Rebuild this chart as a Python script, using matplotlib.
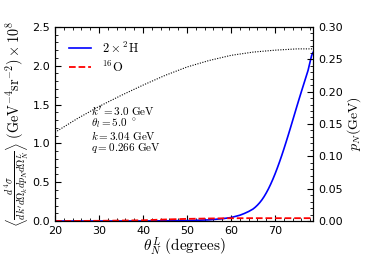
import numpy as np
import matplotlib
matplotlib.use("Agg")
import matplotlib.pyplot as plt
from matplotlib.ticker import AutoMinorLocator

plt.rcParams['mathtext.fontset'] = 'cm'
plt.rcParams['font.size'] = 8

# cross section (x 1e8) vs theta_N^L
theta_h = [20, 30, 40, 45, 50, 55, 58, 60, 62, 63, 64, 65, 65.5, 66, 66.5, 67,
           67.5, 68, 68.5, 69, 69.5, 70, 70.5, 71, 71.5, 72, 72.5, 73, 73.5, 74,
           74.5, 75, 75.5, 76, 76.5, 77, 77.5, 78, 78.3, 78.6]
sig_h = [0.0, 0.0, 0.001, 0.003, 0.006, 0.015, 0.03, 0.045, 0.075, 0.097, 0.123,
         0.155, 0.178, 0.205, 0.236, 0.272, 0.314, 0.362, 0.415, 0.474, 0.538,
         0.607, 0.681, 0.759, 0.841, 0.927, 1.016, 1.107, 1.20, 1.295, 1.39,
         1.485, 1.578, 1.67, 1.76, 1.85, 1.94, 2.06, 2.13, 2.17]

theta_o = [20, 30, 40, 45, 50, 55, 60, 65, 70, 78.6]
sig_o = [0.0, 0.003, 0.01, 0.02, 0.028, 0.033, 0.036, 0.037, 0.037, 0.037]

# nucleon momentum p_N (GeV), right axis
theta_p = [20, 25, 30, 35, 40, 45, 50, 55, 60, 65, 70, 75, 78.6]
p_N = [0.137, 0.158, 0.177, 0.194, 0.210, 0.225, 0.238, 0.248, 0.256, 0.261,
       0.264, 0.266, 0.266]

kin_lines = [r"$k' = 3.0\ \mathrm{GeV}$",
             r'$\theta_l = 5.0\ ^\circ$',
             r'$k = 3.04\ \mathrm{GeV}$',
             r'$q = 0.266\ \mathrm{GeV}$']

fig = plt.figure(figsize=(3.69, 2.77), dpi=100)
ax = fig.add_axes([0.149, 0.202, 0.699, 0.701])
ax2 = ax.twinx()

ax.plot(theta_h, sig_h, color='blue', lw=1.2, label=r'$2\times{}^2\mathrm{H}$')
ax.plot(theta_o, sig_o, color='red', lw=1.3, ls='--', label=r'${}^{16}\mathrm{O}$')
ax2.plot(theta_p, p_N, color='black', lw=0.8, ls=(0, (1, 1.3)))

ax.set_xlim(20, 78.6)
ax.set_ylim(0, 2.5)
ax2.set_ylim(0, 0.30)
ax.set_xticks([20, 30, 40, 50, 60, 70])
ax.set_yticks(np.arange(0, 2.51, 0.5))
ax2.set_yticks(np.arange(0, 0.301, 0.05))

for a in (ax, ax2):
    a.xaxis.set_minor_locator(AutoMinorLocator(5))
    a.yaxis.set_minor_locator(AutoMinorLocator(5))
    a.tick_params(which='both', direction='in', top=True, labelsize=8)
    a.tick_params(which='major', length=4)
    a.tick_params(which='minor', length=2)
ax.tick_params(which='both', right=False)
ax2.tick_params(which='both', left=False)
ax.yaxis.set_major_formatter(plt.FormatStrFormatter('%.1f'))
ax2.yaxis.set_major_formatter(plt.FormatStrFormatter('%.2f'))

ax.set_xlabel(r'$\theta_N^L\ (\mathrm{degrees})$', fontsize=11, labelpad=0)
ax.set_ylabel(r'$\left\langle\frac{d^4\sigma}{dk^\prime d\Omega_k dp_N d\Omega_N^L}\right\rangle\ (\mathrm{GeV}^{-4}\mathrm{sr}^{-2})\times10^8$',
              fontsize=10.3, labelpad=1)
ax2.set_ylabel(r'$p_N(\mathrm{GeV})$', fontsize=10, labelpad=2)

for i, s in enumerate(kin_lines):
    ax.text(0.14, 0.57 - i * 0.064, s, transform=ax.transAxes, fontsize=8,
            va='center', ha='left')

ax.legend(loc='upper left', frameon=False, fontsize=9, handlelength=1.8,
          borderaxespad=0.7, labelspacing=0.3, handletextpad=0.9)

fig.savefig('out.png', dpi=100)
